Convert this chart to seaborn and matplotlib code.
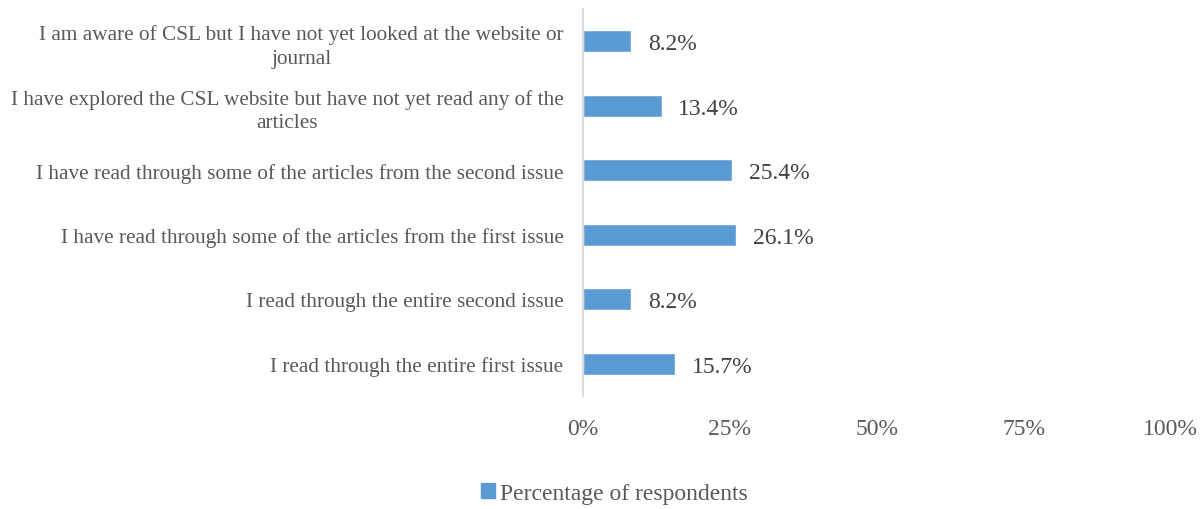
import pandas as pd
import seaborn as sns
import matplotlib.pyplot as plt
from matplotlib.ticker import PercentFormatter
from matplotlib.patches import Patch

# dati
categorie = [
    "I am aware of CSL but I have not yet looked at the website or\njournal",
    "I have explored the CSL website but have not yet read any of the\narticles",
    "I have read through some of the articles from the second issue",
    "I have read through some of the articles from the first issue",
    "I read through the entire second issue",
    "I read through the entire first issue",
]
percentuali = [8.2, 13.4, 25.4, 26.1, 8.2, 15.7]
serie = "Percentage of respondents"

df = pd.DataFrame({"categoria": categorie, "valore": percentuali})

sns.set_theme(style="white")
plt.rcParams["font.family"] = ["Liberation Serif", "DejaVu Serif"]
grigio = "#595959"
blu = "#5B9BD5"

fig = plt.figure(figsize=(12.02, 5.10), dpi=100)
ax = fig.add_axes([0.485, 0.222, 0.489, 0.758])

sns.barplot(data=df, x="valore", y="categoria", color=blu, width=0.34,
            saturation=1, ax=ax)

for p, v in zip(ax.patches, percentuali):
    ax.text(p.get_width() + 2.8, p.get_y() + p.get_height() / 2 + 0.04,
            f"{v:.1f}%", va="center", ha="left", fontsize=17, color="#404040")

ax.set_xlim(0, 100)
ax.set_xticks([0, 25, 50, 75, 100])
ax.xaxis.set_major_formatter(PercentFormatter(decimals=0))
ax.set_xlabel("")
ax.set_ylabel("")
ax.tick_params(axis="x", length=0, labelsize=17, labelcolor=grigio, pad=16)
ax.tick_params(axis="y", length=0, labelsize=15.3, labelcolor=grigio, pad=14)
for lab in ax.get_yticklabels():
    lab.set_multialignment("center")
    lab.set_linespacing(1.3)

for s in ["top", "right", "bottom"]:
    ax.spines[s].set_visible(False)
ax.spines["left"].set_color("#D9D9D9")
ax.spines["left"].set_linewidth(1.5)

fig.legend(handles=[Patch(color=blu, label=serie)], loc="center",
           bbox_to_anchor=(0.511, 0.03), frameon=False, fontsize=17,
           labelcolor=grigio, handlelength=0.6, handleheight=0.6,
           handletextpad=0.2)

plt.savefig("out.png", dpi=100)
